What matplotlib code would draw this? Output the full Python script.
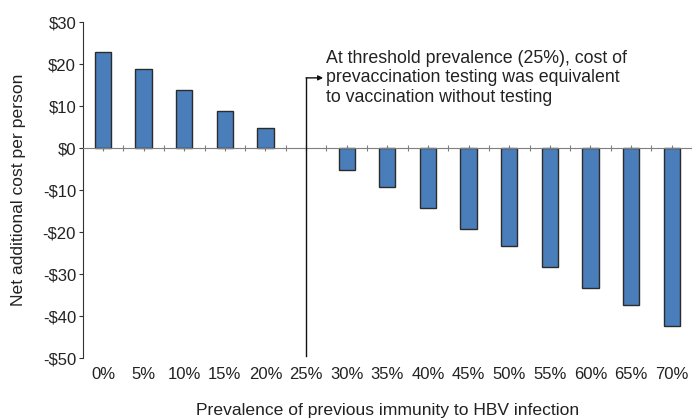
import numpy as np
import matplotlib.pyplot as plt
import matplotlib.transforms as mtransforms

plt.rcParams['font.family'] = ['Liberation Sans', 'DejaVu Sans']

# data
prevalence = ["0%", "5%", "10%", "15%", "20%", "25%", "30%", "35%",
              "40%", "45%", "50%", "55%", "60%", "65%", "70%"]
net_cost = [22.8, 18.8, 13.9, 8.8, 4.8, 0.0, -5.2, -9.3,
            -14.2, -19.3, -23.3, -28.3, -33.3, -37.4, -42.3]
yticks = [30, 20, 10, 0, -10, -20, -30, -40, -50]
ytick_labels = ["$30", "$20", "$10", "$0", "-$10", "-$20", "-$30", "-$40", "-$50"]
threshold_idx = 5
note = ("At threshold prevalence (25%), cost of\n"
        "prevaccination testing was equivalent\n"
        "to vaccination without testing")

txt = "#222222"
x = np.arange(len(prevalence))

fig = plt.figure(figsize=(6.92, 4.2), dpi=100)
ax = fig.add_axes([0.12, 0.1476, 0.88, 0.80])

bars = ax.bar(x, net_cost, width=0.4, color="#4A7EBB", edgecolor="#2b2b2b",
              linewidth=1.0, zorder=3)
for b, v in zip(bars, net_cost):
    if v == 0:
        b.set_visible(False)

ax.set_xlim(-0.49, 14.5)
ax.set_ylim(-50, 30)

# spines: y axis on left, category axis drawn at zero
for s in ["top", "right"]:
    ax.spines[s].set_visible(False)
ax.spines["bottom"].set_position(("data", 0))
ax.spines["bottom"].set_color("#7f7f7f")
ax.spines["bottom"].set_zorder(4)
ax.spines["left"].set_color("#333333")

ax.set_yticks(yticks)
ax.set_yticklabels(ytick_labels)
ax.tick_params(axis="y", direction="out", length=3, width=0.8,
               colors="#333333", labelcolor=txt, labelsize=12, pad=2)

ax.set_xticks(np.arange(0, 14.51, 0.5))
ax.set_xticklabels([])
ax.tick_params(axis="x", direction="inout", length=5, width=0.8,
               colors="#7f7f7f")

# category labels below the plot
trans = mtransforms.blended_transform_factory(ax.transData, ax.transAxes)
for xi, lab in zip(x, prevalence):
    ax.text(xi, -0.05, lab, transform=trans, ha="center", va="center",
            fontsize=12, color=txt)

ax.set_ylabel("Net additional cost per person", fontsize=12.6, color=txt,
              labelpad=12)
fig.text(0.56, 0.022, "Prevalence of previous immunity to HBV infection",
         ha="center", va="center", fontsize=12.6, color=txt)

# threshold marker and note
arrow_y = 16.7
ax.plot([threshold_idx, threshold_idx], [-49.5, arrow_y], color="#111111",
        lw=1.0, zorder=5)
ax.annotate("", xy=(threshold_idx + 0.42, arrow_y), xytext=(threshold_idx, arrow_y),
            arrowprops=dict(arrowstyle="-|>", color="#111111", lw=1.0,
                            mutation_scale=7, shrinkA=0, shrinkB=0))
ax.text(threshold_idx + 0.49, arrow_y, note, ha="left", va="center",
        fontsize=12.8, color=txt, linespacing=1.22)

fig.savefig("out.png", dpi=100)
